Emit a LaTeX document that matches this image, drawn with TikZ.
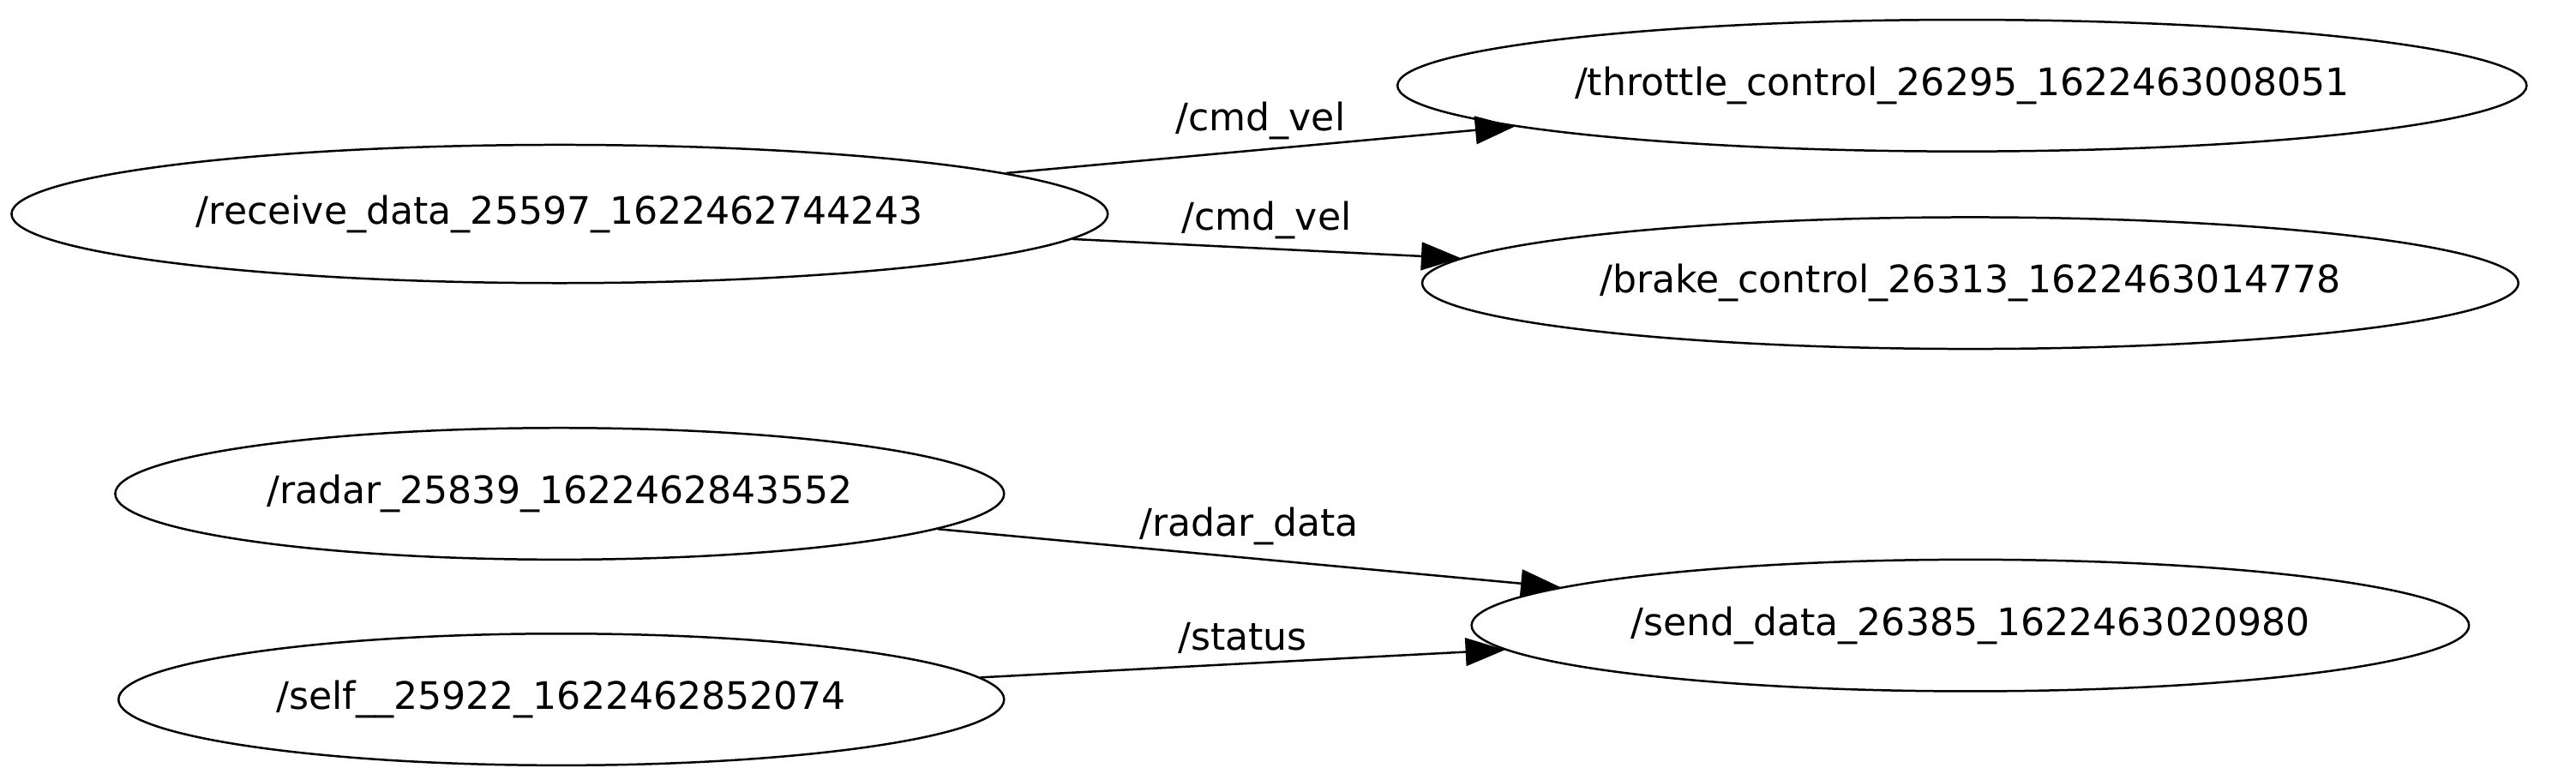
\documentclass[tikz,border=0pt]{standalone}
\usepackage{fontspec}
\setmainfont{DejaVu Sans}
\usetikzlibrary{shapes.geometric,arrows.meta}
\begin{document}
\begin{tikzpicture}[x=1pt,y=-1pt,
  nd/.style={draw,ellipse,line width=1.3pt,inner sep=0pt,font=\fontsize{23}{26}\selectfont},
  ed/.style={line width=1.3pt,-{Triangle[length=24pt,width=17pt]}},
  lb/.style={font=\fontsize{23}{26}\selectfont}]
\fill[white] (0,0) rectangle (1565,470);
\node[nd,minimum width=666pt,minimum height=84pt] (rx) at (340,130) {/receive\_data\_25597\_1622462744243};
\node[nd,minimum width=686pt,minimum height=80pt] (th) at (1192,52) {/throttle\_control\_26295\_1622463008051};
\node[nd,minimum width=666pt,minimum height=80pt] (br) at (1197,172) {/brake\_control\_26313\_1622463014778};
\node[nd,minimum width=540pt,minimum height=80pt] (ra) at (340,300) {/radar\_25839\_1622462843552};
\node[nd,minimum width=538pt,minimum height=80pt] (se) at (341,425) {/self\_\_25922\_1622462852074};
\node[nd,minimum width=606pt,minimum height=80pt] (sd) at (1197,380) {/send\_data\_26385\_1622463020980};
\draw[ed] (rx) -- (th) node[lb,pos=0.5,above=2pt] {/cmd\_vel};
\draw[ed] (rx) -- (br) node[lb,pos=0.5,above=2pt] {/cmd\_vel};
\draw[ed] (ra) -- (sd) node[lb,pos=0.5,above=4pt] {/radar\_data};
\draw[ed] (se) -- (sd) node[lb,pos=0.5,above=2pt] {/status};
\end{tikzpicture}
\end{document}
